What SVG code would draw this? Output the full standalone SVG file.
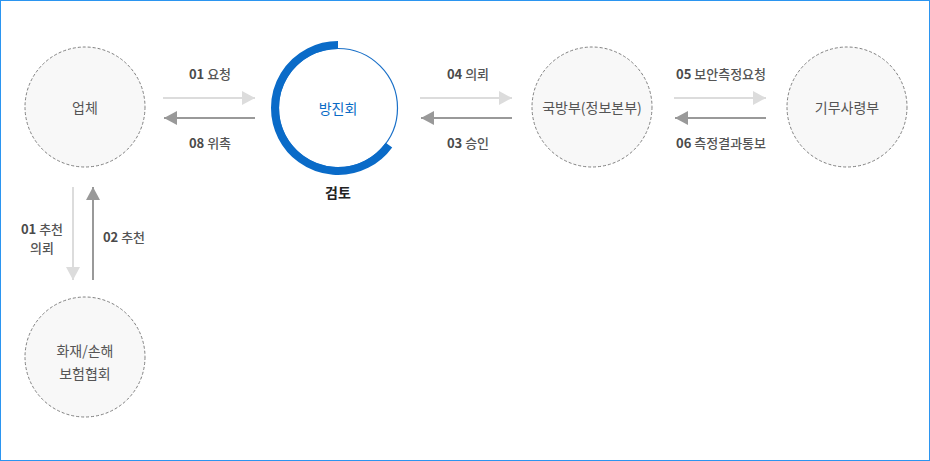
<svg xmlns="http://www.w3.org/2000/svg" width="930" height="461" viewBox="0 0 930 461">
<style>
  text { font-family: "Noto Sans CJK KR", "Noto Sans", sans-serif; dominant-baseline: central; text-anchor: middle; }
  .node { fill: #f8f8f8; stroke: #808080; stroke-width: 1; stroke-dasharray: 3 2; }
  .nlabel { font-size: 14px; fill: #555; }
  .elabel { font-size: 13px; fill: #555; font-weight: 500; }
  .num { font-weight: 700; fill: #4a4a4a; }
  .light { stroke: #dcdcdc; stroke-width: 2; fill: none; }
  .dark { stroke: #999999; stroke-width: 2; fill: none; }
</style>
<defs>
  <marker id="hl" markerUnits="userSpaceOnUse" markerWidth="14" markerHeight="15" refX="13" refY="7" orient="auto">
    <path d="M0,0 L13,7 L0,14 Z" fill="#dcdcdc"/>
  </marker>
  <marker id="hd" markerUnits="userSpaceOnUse" markerWidth="14" markerHeight="15" refX="13" refY="7" orient="auto">
    <path d="M0,0 L13,7 L0,14 Z" fill="#999999"/>
  </marker>
</defs>
<rect x="0.5" y="0.5" width="929" height="460" fill="#ffffff" stroke="#2b95f0" stroke-width="1"/>

<g id="connectors">
  <line class="light" x1="163" y1="98" x2="255" y2="98" marker-end="url(#hl)"/>
  <line class="dark" x1="255" y1="118" x2="164" y2="118" marker-end="url(#hd)"/>
  <line class="light" x1="420" y1="98" x2="512" y2="98" marker-end="url(#hl)"/>
  <line class="dark" x1="512" y1="118" x2="421" y2="118" marker-end="url(#hd)"/>
  <line class="light" x1="674" y1="98" x2="766" y2="98" marker-end="url(#hl)"/>
  <line class="dark" x1="766" y1="118" x2="675" y2="118" marker-end="url(#hd)"/>
  <line class="light" x1="73" y1="187" x2="73" y2="280" marker-end="url(#hl)"/>
  <line class="dark" x1="93" y1="280" x2="93" y2="187" marker-end="url(#hd)"/>
  <text class="elabel" x="210" y="73"><tspan class="num">01</tspan> 요청</text>
  <text class="elabel" x="210" y="142"><tspan class="num">08</tspan> 위촉</text>
  <text class="elabel" x="468" y="73"><tspan class="num">04</tspan> 의뢰</text>
  <text class="elabel" x="468" y="142"><tspan class="num">03</tspan> 승인</text>
  <text class="elabel" x="721" y="73"><tspan class="num">05</tspan> 보안측정요청</text>
  <text class="elabel" x="721" y="142"><tspan class="num">06</tspan> 측정결과통보</text>
  <text class="elabel" x="42" y="228"><tspan class="num">01</tspan> 추천</text>
  <text class="elabel" x="42" y="247">의뢰</text>
  <text class="elabel" x="124" y="236"><tspan class="num">02</tspan> 추천</text>
</g>

<g id="node-company">
  <circle class="node" cx="85" cy="107" r="60"/>
  <text class="nlabel" x="85" y="107">업체</text>
</g>

<g id="node-bangjin">
  <circle cx="338" cy="108" r="59.5" fill="#ffffff" stroke="#1a70c8" stroke-width="1.2"/>
  <path d="M338,45 A63,63 0 1 0 388.97,145.03" fill="none" stroke="#0a6bc8" stroke-width="8"/>
  <text class="nlabel" x="338" y="108" style="fill:#0a6bc6">방진회</text>
  <text x="338" y="192" style="font-size:14px;font-weight:700;fill:#222">검토</text>
</g>

<g id="node-mnd">
  <circle class="node" cx="592" cy="107" r="60"/>
  <text class="nlabel" x="592" y="107">국방부(정보본부)</text>
</g>

<g id="node-dsc">
  <circle class="node" cx="847" cy="107" r="60"/>
  <text class="nlabel" x="847" y="107">기무사령부</text>
</g>

<g id="node-insurance">
  <circle class="node" cx="85" cy="357" r="60"/>
  <text class="nlabel" x="85" y="350">화재/손해</text>
  <text class="nlabel" x="85" y="373">보험협회</text>
</g>
</svg>
